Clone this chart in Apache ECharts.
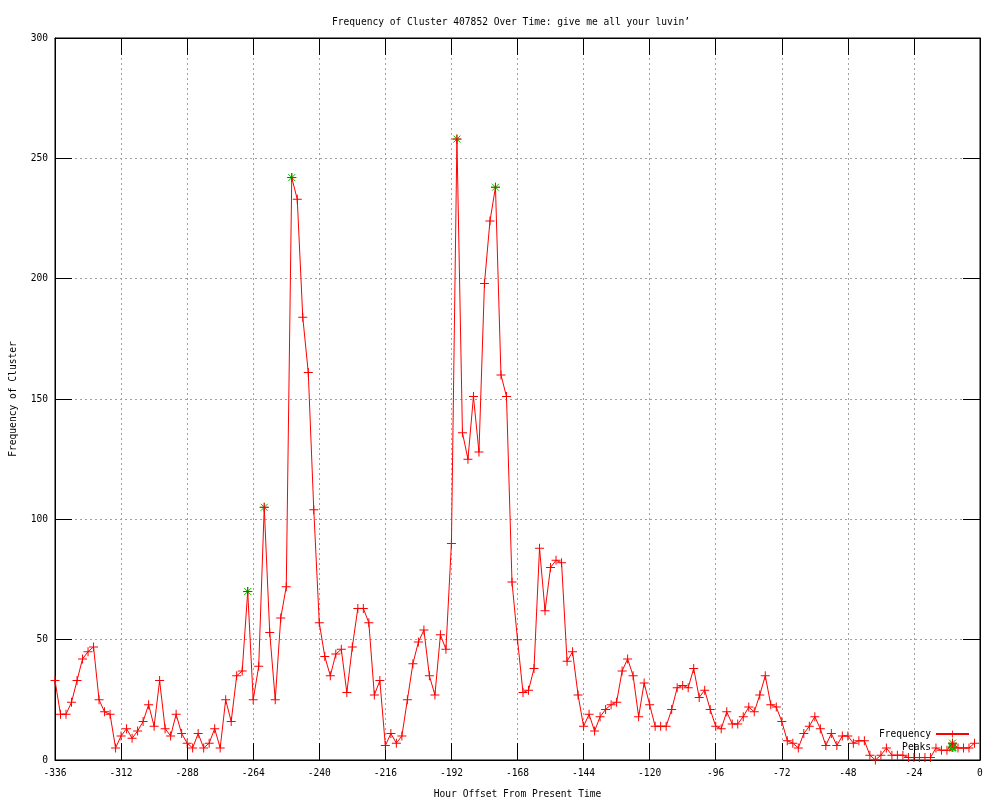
<!DOCTYPE html>
<html>
<head>
<meta charset="utf-8">
<script src="https://cdn.jsdelivr.net/npm/echarts@6/dist/echarts.min.js"></script>
<style>html,body{margin:0;padding:0;background:#fff}#c{width:1000px;height:800px}</style>
</head>
<body>
<div id="c"></div>
<script>
// ---- data ----
const titleText = 'Frequency of Cluster 407852 Over Time: give me all your luvin\u2019';
const xName = 'Hour Offset From Present Time';
const yName = 'Frequency of Cluster';
const startHour = -336;   // hour of the first sample
const stepHours = 2;      // samples are every 2 hours
const frequency = [
  33,19,19,24,33,42,45,47,25,20,19,5,10,13,9,12,16,23,14,33,
  13,10,19,11,7,5,11,5,7,13,5,25,16,35,37,70,25,39,105,53,
  25,59,72,242,233,184,161,104,57,43,35,44,46,28,47,63,63,57,27,33,
  6,11,7,10,25,40,49,54,35,27,52,46,90,258,136,125,151,128,198,224,
  238,160,151,74,50,28,29,38,88,62,80,83,82,41,45,27,14,19,12,18,
  21,23,24,37,42,35,18,32,23,14,14,14,21,30,31,30,38,26,29,21,
  14,13,20,15,15,18,22,20,27,35,23,22,16,8,7,5,11,14,18,13,
  6,11,6,10,10,7,8,8,2,0,2,5,2,2,2,1,1,1,1,1,
  5,4,4,7,5,5,5,7
];
const peakHours = [-266, -260, -250, -190, -176, -10];
const peakValues = [70, 105, 242, 258, 238, 7];
const xTicks = { min: -336, max: 0, interval: 24 };
const yTicks = { min: 0, max: 300, interval: 50 };

// ---- build ----
const freqData = frequency.map((v, i) => [startHour + i * stepHours, v]);
const peakData = peakHours.map((h, i) => [h, peakValues[i]]);

const FONT = 'DejaVu Sans Mono';
const FS = 9.6;
const plusPath = 'path://M0,4H9V5H0Z M4,0H5V9H4Z';
const starPath = 'path://M0,4.5L9,4.5M4.5,0L4.5,9M1,1L8,8M1,8L8,1';
const gridLine = { show: true, lineStyle: { color: '#a0a0a0', type: [2, 3], width: 1 } };
const tick = { show: true, inside: true, length: 17, lineStyle: { color: '#000', width: 1 } };
const axLine = { show: true, onZero: false, lineStyle: { color: '#000', width: 1 } };
const lbl = { color: '#000', fontFamily: FONT, fontSize: FS };

const chart = echarts.init(document.getElementById('c'), null, { renderer: 'canvas' });
chart.setOption({
  animation: false,
  backgroundColor: '#fff',
  title: {
    text: titleText, left: 327, top: 12,
    textStyle: { fontFamily: FONT, fontSize: FS, fontWeight: 'normal', color: '#000' }
  },
  grid: { left: 55, right: 20, top: 38, bottom: 40, show: true, borderColor: '#000', borderWidth: 1,
          containLabel: false, outerBoundsMode: 'none' },
  legend: {
    orient: 'vertical', right: 25, top: 724, align: 'right',
    itemWidth: 33, itemHeight: 9, itemGap: 3,
    textStyle: { fontFamily: FONT, fontSize: FS, color: '#000' },
    data: ['Frequency', 'Peaks']
  },
  xAxis: [
    {
      type: 'value', min: xTicks.min, max: xTicks.max, interval: xTicks.interval, position: 'bottom',
      name: xName, nameLocation: 'middle', nameGap: 29,
      nameTextStyle: { fontFamily: FONT, fontSize: FS, color: '#000' },
      axisLine: axLine, axisTick: tick, splitLine: gridLine,
      axisLabel: Object.assign({ margin: 8 }, lbl)
    },
    {
      type: 'value', min: xTicks.min, max: xTicks.max, interval: xTicks.interval, position: 'top',
      axisLine: axLine, axisTick: tick, splitLine: { show: false }, axisLabel: { show: false }
    }
  ],
  yAxis: [
    {
      type: 'value', min: yTicks.min, max: yTicks.max, interval: yTicks.interval, position: 'left',
      name: yName, nameLocation: 'middle', nameGap: 37, nameRotate: 90,
      nameTextStyle: { fontFamily: FONT, fontSize: FS, color: '#000' },
      axisLine: axLine, axisTick: tick, splitLine: gridLine,
      axisLabel: Object.assign({ margin: 7 }, lbl)
    },
    {
      type: 'value', min: yTicks.min, max: yTicks.max, interval: yTicks.interval, position: 'right',
      axisLine: axLine, axisTick: tick, splitLine: { show: false }, axisLabel: { show: false }
    }
  ],
  series: [
    {
      name: 'Peaks', type: 'scatter', data: peakData, z: 3,
      symbol: starPath, symbolSize: 9, symbolKeepAspect: true,
      itemStyle: { color: 'rgba(0,0,0,0)', borderColor: '#00c000', borderWidth: 1, opacity: 1 }
    },
    {
      name: 'Frequency', type: 'line', data: freqData, z: 4,
      showAllSymbol: true, symbol: plusPath, symbolSize: 9,
      lineStyle: { color: '#ff0000', width: 1 },
      itemStyle: { color: '#ff0000', borderWidth: 0 }
    }
  ]
});
</script>
</body>
</html>
